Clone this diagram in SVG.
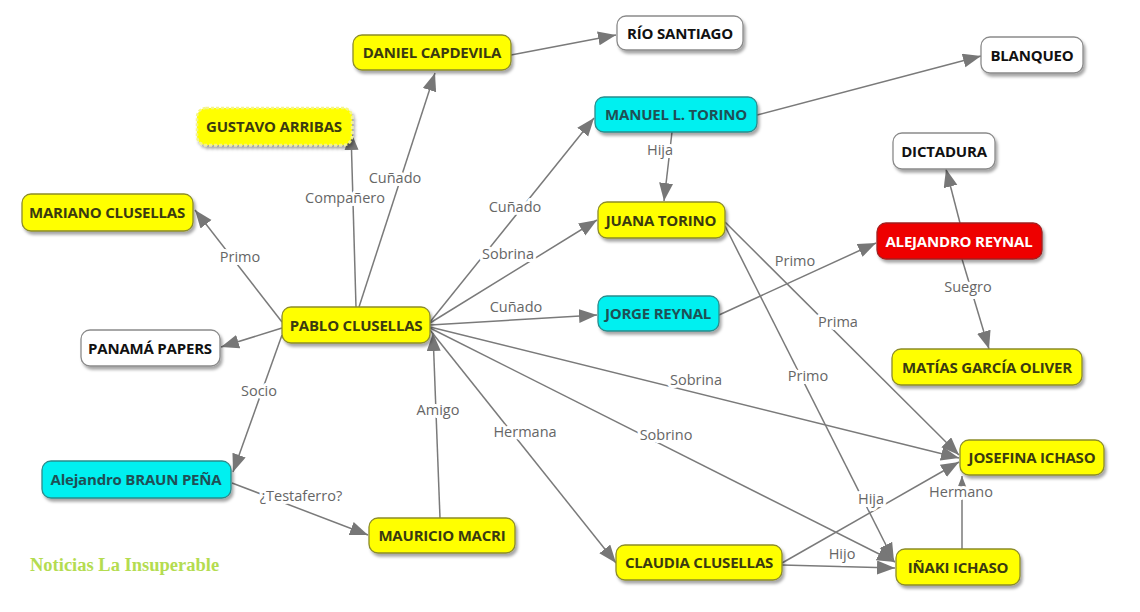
<svg xmlns="http://www.w3.org/2000/svg" width="1140" height="612" viewBox="0 0 1140 612">
<defs>
<style>
.n rect{rx:9px;ry:9px;stroke-width:1.3px;filter:url(#sh)}
.y rect{fill:#ffff00;stroke:#8c8c2a}
.c rect{fill:#00f0f0;stroke:#2a8c8c}
.w rect{fill:#ffffff;stroke:#8a8a8a}
.r rect{fill:#ee0000;stroke:#a02020}
.n text{font-family:"Open Sans","Noto Sans",sans-serif;font-weight:bold;font-size:15px;text-anchor:middle;letter-spacing:-0.2px}
.y text{fill:#3a3a10}
.c text{fill:#1f4f55}
.w text{fill:#111}
.r text{fill:#ffffff}
#edges line{stroke:#7a7a7a;stroke-width:1.5;marker-end:url(#ah)}
#labels text{font-family:"Open Sans","Noto Sans",sans-serif;font-size:14.5px;fill:#666;text-anchor:middle;stroke:#fff;stroke-width:6px;paint-order:stroke;stroke-linejoin:round}
</style>
<marker id="ah" markerUnits="userSpaceOnUse" markerWidth="20" markerHeight="16" refX="18" refY="7" orient="auto">
<path d="M0,0 L18,7 L0,14 Z" fill="#777"/>
</marker>
<filter id="sh" x="-10%" y="-20%" width="130%" height="160%">
<feDropShadow dx="2" dy="3" stdDeviation="1.6" flood-color="#000" flood-opacity="0.35"/>
</filter>
</defs>
<rect width="1140" height="612" fill="#fff"/>

<g id="edges">
<line x1="359" y1="307" x2="435" y2="73"/>
<line x1="356" y1="307" x2="351" y2="132"/>
<line x1="282" y1="322" x2="195" y2="210"/>
<line x1="282" y1="328" x2="221" y2="347"/>
<line x1="282" y1="335" x2="233" y2="472"/>
<line x1="232" y1="483" x2="368" y2="535"/>
<line x1="440" y1="518" x2="433" y2="333"/>
<line x1="430" y1="322" x2="594" y2="118"/>
<line x1="430" y1="323" x2="597" y2="220"/>
<line x1="430" y1="325" x2="597" y2="315"/>
<line x1="430" y1="327" x2="959" y2="458"/>
<line x1="430" y1="328" x2="895" y2="562"/>
<line x1="430" y1="330" x2="616" y2="563"/>
<line x1="511" y1="55" x2="616" y2="35"/>
<line x1="757" y1="115" x2="981" y2="56"/>
<line x1="672" y1="132" x2="664" y2="201"/>
<line x1="719" y1="315" x2="876" y2="243"/>
<line x1="960" y1="223" x2="946" y2="169"/>
<line x1="962" y1="259" x2="989" y2="349"/>
<line x1="725" y1="222" x2="959" y2="455"/>
<line x1="725" y1="226" x2="894" y2="561"/>
<line x1="782" y1="563" x2="959" y2="462"/>
<line x1="782" y1="565" x2="895" y2="568"/>
<line x1="962" y1="549" x2="962" y2="476"/>
</g>

<g id="labels">
<text x="395" y="183">Cuñado</text>
<text x="345" y="203">Compañero</text>
<text x="240" y="262">Primo</text>
<text x="259" y="396">Socio</text>
<text x="301" y="501">¿Testaferro?</text>
<text x="438" y="415">Amigo</text>
<text x="515" y="212">Cuñado</text>
<text x="508" y="259">Sobrina</text>
<text x="516" y="312">Cuñado</text>
<text x="696" y="385">Sobrina</text>
<text x="666" y="440">Sobrino</text>
<text x="525" y="437">Hermana</text>
<text x="660" y="155">Hija</text>
<text x="795" y="266">Primo</text>
<text x="968" y="292">Suegro</text>
<text x="838" y="327">Prima</text>
<text x="808" y="381">Primo</text>
<text x="871" y="504">Hija</text>
<text x="842" y="559">Hijo</text>
<text x="961" y="497">Hermano</text>
</g>

<g id="n-daniel" class="n y"><rect x="353" y="35" width="158" height="35"/><text x="432" y="58">DANIEL CAPDEVILA</text></g>
<g id="n-rio" class="n w"><rect x="617" y="16" width="126" height="34"/><text x="680" y="39">RÍO SANTIAGO</text></g>
<g id="n-gustavo" class="n y"><rect x="197" y="108" width="155" height="37" style="stroke:#f4f48a;stroke-width:2.5px;stroke-dasharray:3 2;filter:url(#sh)"/><text x="274" y="132">GUSTAVO ARRIBAS</text></g>
<g id="n-manuel" class="n c"><rect x="595" y="97" width="162" height="35"/><text x="676" y="120">MANUEL L. TORINO</text></g>
<g id="n-blanqueo" class="n w"><rect x="981" y="37" width="102" height="36"/><text x="1032" y="61">BLANQUEO</text></g>
<g id="n-dictadura" class="n w"><rect x="893" y="133" width="102" height="36"/><text x="944" y="157">DICTADURA</text></g>
<g id="n-mariano" class="n y"><rect x="22" y="194" width="171" height="37"/><text x="107" y="218">MARIANO CLUSELLAS</text></g>
<g id="n-juana" class="n y"><rect x="598" y="202" width="127" height="36"/><text x="661" y="226">JUANA TORINO</text></g>
<g id="n-alejandro" class="n r"><rect x="877" y="223" width="165" height="36"/><text x="959" y="247">ALEJANDRO REYNAL</text></g>
<g id="n-pablo" class="n y"><rect x="282" y="307" width="148" height="36"/><text x="356" y="331">PABLO CLUSELLAS</text></g>
<g id="n-jorge" class="n c"><rect x="598" y="296" width="121" height="35"/><text x="658" y="319">JORGE REYNAL</text></g>
<g id="n-panama" class="n w"><rect x="81" y="330" width="139" height="36"/><text x="150" y="354">PANAMÁ PAPERS</text></g>
<g id="n-matias" class="n y"><rect x="892" y="349" width="190" height="36"/><text x="987" y="373">MATÍAS GARCÍA OLIVER</text></g>
<g id="n-josefina" class="n y"><rect x="960" y="440" width="144" height="35"/><text x="1032" y="463">JOSEFINA ICHASO</text></g>
<g id="n-braun" class="n c"><rect x="42" y="461" width="189" height="37"/><text x="136" y="485">Alejandro BRAUN PEÑA</text></g>
<g id="n-macri" class="n y"><rect x="369" y="518" width="146" height="35"/><text x="442" y="541">MAURICIO MACRI</text></g>
<g id="n-claudia" class="n y"><rect x="616" y="545" width="166" height="35"/><text x="699" y="568">CLAUDIA CLUSELLAS</text></g>
<g id="n-inaki" class="n y"><rect x="896" y="549" width="124" height="36"/><text x="958" y="573">IÑAKI ICHASO</text></g>

<text x="30" y="571" style="font-family:'Liberation Serif',serif;font-weight:bold;font-size:18.5px;fill:#b4dc50">Noticias La Insuperable</text>
</svg>
